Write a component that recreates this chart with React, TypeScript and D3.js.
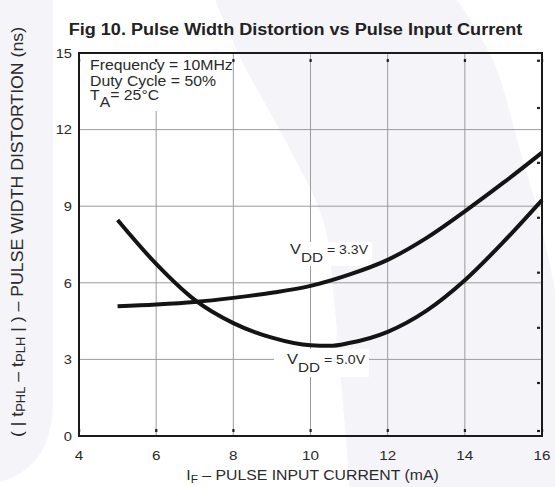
import React from "react";
import * as d3 from "d3";

// ---- data ----
const xTicks = [4, 6, 8, 10, 12, 14, 16];
const yTicks = [0, 3, 6, 9, 12, 15];
const rightTicks = [14.7, 12.85, 10.7, 8.55, 6.4, 4.24, 2.08, 0.2];

const current = [5, 6, 7, 8, 9, 10, 11, 12, 13, 14, 15, 16];
const vdd33 = [5.08, 5.15, 5.25, 5.41, 5.61, 5.88, 6.32, 6.9, 7.75, 8.8, 9.92, 11.1];
const current50 = [5, 6, 7, 8, 9, 10, 10.5, 11, 12, 13, 14, 15, 16];
const vdd50 = [8.46, 6.74, 5.33, 4.42, 3.85, 3.55, 3.53, 3.64, 4.08, 4.9, 6.1, 7.6, 9.24];

const W = 555;
const H = 487;
const SX = 1.13; // horizontal stretch of the original artwork text
const FONT = "'Liberation Sans', Arial, sans-serif";

const x = d3.scaleLinear().domain([4, 16]).range([79, 542]);
const y = d3.scaleLinear().domain([0, 15]).range([436, 53]);

const lineGen = d3
  .line<[number, number]>()
  .x((d) => x(d[0]))
  .y((d) => y(d[1]))
  .curve(d3.curveMonotoneX);

const bandLeft: [number, number][] = [
  [215, 0], [243, 63], [285, 140], [323, 220], [334, 300], [341, 380], [350, 487],
];
const bandRight: [number, number][] = [
  [555, 290], [540, 220], [520, 150], [493, 60], [457, 0],
];
const rawLine = d3.line<[number, number]>().curve(d3.curveCatmullRom.alpha(0.5));

function T(props: any) {
  const { x: tx, y: ty, size = 13, weight = "normal", anchor = "start", fill = "#2a2a2a", rot = false, along = 1, children } = props;
  const tr = rot
    ? `translate(${tx},${ty}) rotate(-90) scale(${along},1.1)`
    : `translate(${tx},${ty}) scale(${SX},1)`;
  return (
    <text transform={tr} fontSize={size} fontWeight={weight} textAnchor={anchor} fill={fill} fontFamily={FONT}>
      {children}
    </text>
  );
}

export default function App() {
  const [x0, x1] = x.range();
  const [y0, y1] = y.range();
  const bandD =
    (rawLine(bandLeft) as string) +
    " L555,487 " +
    (rawLine(bandRight) as string).replace(/^M/, "L") +
    " Z";
  return (
    <div style={{ position: "absolute", left: 0, top: 0 }}>
      <svg width={W} height={H} style={{ display: "block" }}>
        <rect x={0} y={0} width={W} height={H} fill="#ffffff" />
        {/* watermark shapes */}
        <path d={bandD} fill="#f5f4f8" />
        <path d="M0,0 L53,0 L53,400 C53,440 40,470 0,482 Z" fill="#f5f4f8" />

        {/* grid */}
        {xTicks.slice(1, -1).map((t) => (
          <line key={"gx" + t} x1={x(t)} x2={x(t)} y1={y1} y2={y0} stroke="#9c9c9c" strokeWidth={1} />
        ))}
        {yTicks.slice(1, -1).map((t) => (
          <line key={"gy" + t} x1={x0} x2={x1} y1={y(t)} y2={y(t)} stroke="#9c9c9c" strokeWidth={1} />
        ))}

        {/* white label boxes */}
        <rect x={80} y={54} width={152} height={57} fill="#ffffff" />
        <rect x={286} y={242} width={86} height={24} fill="#ffffff" />
        <rect x={274} y={349} width={95} height={28} fill="#ffffff" />

        {/* small tick marks */}
        {xTicks.map((t) => (
          <g key={"tk" + t}>
            <rect x={x(t) - 1} y={59} width={2.2} height={3} fill="#222" />
            <rect x={x(t) - 1} y={429} width={2.2} height={3} fill="#222" />
          </g>
        ))}
        {rightTicks.map((t, i) => (
          <rect key={"rt" + i} x={x1 - 5} y={y(t) - 1} width={3} height={2.2} fill="#222" />
        ))}

        {/* curves */}
        <path d={lineGen(current.map((c, i) => [c, vdd33[i]]) as [number, number][]) as string} fill="none" stroke="#141414" strokeWidth={4} />
        <path d={lineGen(current50.map((c, i) => [c, vdd50[i]]) as [number, number][]) as string} fill="none" stroke="#141414" strokeWidth={4} />

        {/* frame */}
        <rect x={x0} y={y1} width={x1 - x0} height={y0 - y1} fill="none" stroke="#1a1a1a" strokeWidth={2} />

        {/* tick labels */}
        {yTicks.map((t) => (
          <T key={"yl" + t} x={72} y={y(t) + 4.7} size={13} anchor="end">{t}</T>
        ))}
        {xTicks.map((t) => (
          <T key={"xl" + t} x={x(t)} y={460} size={13.5} anchor="middle">{t}</T>
        ))}

        {/* title */}
        <T x={295.5} y={34.5} size={16} weight="bold" anchor="middle" fill="#222">
          Fig 10. Pulse Width Distortion vs Pulse Input Current
        </T>

        {/* axis titles */}
        <T x={312.5} y={480} size={14} anchor="middle">
          <tspan>I</tspan>
          <tspan fontSize={10.5} dy={3}>F</tspan>
          <tspan dy={-3}> – PULSE INPUT CURRENT (mA)</tspan>
        </T>
        <T x={23} y={232} size={15} along={1.18} anchor="middle" rot>
          <tspan>( | t</tspan>
          <tspan fontSize={11} dy={2}>PHL</tspan>
          <tspan dy={-2}> – t</tspan>
          <tspan fontSize={11} dy={2}>PLH</tspan>
          <tspan dy={-2}> | ) – PULSE WIDTH DISTORTION (ns)</tspan>
        </T>

        {/* conditions */}
        <T x={90} y={70} size={14}>Frequency = 10MHz</T>
        <T x={90} y={86} size={14}>Duty Cycle = 50%</T>
        <T x={90} y={100} size={14}>
          <tspan>T</tspan>
          <tspan dy={7}>A</tspan>
          <tspan dy={-7}>= 25°C</tspan>
        </T>

        {/* curve labels */}
        <T x={290} y={254} size={14.5}>
          <tspan>V</tspan>
          <tspan dy={7.5} fontSize={13.5}>DD</tspan>
          <tspan dy={-7.5} fontSize={12.5}> = 3.3V</tspan>
        </T>
        <T x={287} y={364} size={14.5}>
          <tspan>V</tspan>
          <tspan dy={7.5} fontSize={13.5}>DD</tspan>
          <tspan dy={-7.5} fontSize={12.5}> = 5.0V</tspan>
        </T>
      </svg>
    </div>
  );
}
